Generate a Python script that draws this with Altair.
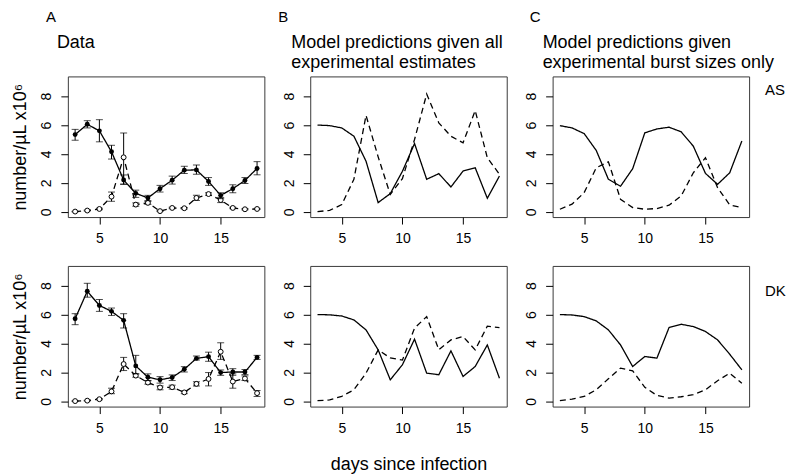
import altair as alt
import pandas as pd

FONT = "Liberation Sans"
W, H = 197, 141

days = list(range(3, 19))

# ---- Panel A: experimental data (mean, lower, upper) ----
as_rbc = [5.34, 6.05, 5.6, 4.15, 2.2, 1.28, 0.96, 1.6, 2.19, 2.88, 2.9, 2.1, 1.14, 1.6, 2.17, 3.0]
as_rbc_lo = [4.95, 5.8, 4.84, 3.65, 1.9, 1.0, 0.78, 1.37, 1.92, 2.65, 2.6, 1.83, 0.91, 1.32, 1.96, 2.56]
as_rbc_hi = [5.7, 6.3, 6.37, 4.6, 2.55, 1.5, 1.14, 1.83, 2.47, 3.15, 3.24, 2.37, 1.32, 1.87, 2.37, 3.47]
as_irbc = [0.02, 0.09, 0.2, 1.05, 3.77, 0.5, 0.62, 0.05, 0.27, 0.25, 0.96, 1.23, 0.82, 0.27, 0.18, 0.2]
as_irbc_lo = [0.0, 0.06, 0.15, 0.73, 1.92, 0.39, 0.52, 0.03, 0.22, 0.2, 0.78, 1.14, 0.64, 0.22, 0.14, 0.16]
as_irbc_hi = [0.04, 0.12, 0.25, 1.37, 5.45, 0.62, 0.72, 0.08, 0.32, 0.3, 1.14, 1.32, 1.0, 0.32, 0.22, 0.24]

dk_rbc = [5.71, 7.61, 6.63, 6.22, 5.6, 2.45, 1.67, 1.49, 1.65, 2.22, 2.97, 3.09, 1.99, 2.03, 2.03, 3.04]
dk_rbc_lo = [5.3, 7.2, 6.22, 5.94, 5.07, 1.9, 1.44, 1.26, 1.44, 2.03, 2.86, 2.77, 1.8, 1.8, 1.85, 2.9]
dk_rbc_hi = [6.06, 8.16, 7.04, 6.45, 6.06, 3.18, 1.9, 1.71, 1.83, 2.4, 3.13, 3.4, 2.17, 2.26, 2.2, 3.18]
dk_irbc = [0.02, 0.05, 0.15, 0.69, 2.58, 1.78, 1.3, 0.96, 0.98, 0.62, 1.21, 1.55, 3.43, 1.37, 1.58, 0.57]
dk_irbc_lo = [0.0, 0.03, 0.11, 0.53, 2.13, 1.67, 1.19, 0.8, 0.85, 0.53, 1.07, 1.07, 2.9, 0.91, 1.44, 0.34]
dk_irbc_hi = [0.04, 0.07, 0.19, 0.91, 3.04, 1.9, 1.42, 1.07, 1.12, 0.71, 1.35, 1.99, 4.05, 1.9, 1.76, 0.75]

# ---- Panel B: model predictions given all experimental estimates ----
b_as_rbc = [6.0, 5.96, 5.8, 5.23, 3.5, 0.64, 1.26, 2.8, 4.72, 2.25, 2.64, 1.72, 2.82, 3.05, 0.94, 2.48]
b_as_irbc = [0.02, 0.1, 0.5, 2.25, 6.67, 3.8, 1.2, 2.3, 5.0, 8.14, 6.15, 5.23, 4.77, 7.0, 3.74, 2.6]
b_dk_rbc = [6.0, 5.98, 5.9, 5.63, 4.94, 3.56, 1.49, 2.53, 4.3, 1.95, 1.84, 3.49, 1.72, 2.41, 3.9, 1.6]
b_dk_irbc = [0.05, 0.1, 0.35, 0.8, 1.95, 3.56, 3.0, 2.85, 5.06, 5.86, 3.56, 4.25, 4.48, 3.56, 5.2, 5.1]

# ---- Panel C: model predictions given experimental burst sizes only ----
c_as_rbc = [5.96, 5.8, 5.41, 4.24, 2.25, 1.77, 2.98, 5.46, 5.73, 5.85, 5.53, 4.54, 2.66, 1.9, 2.7, 4.89]
c_as_irbc = [0.18, 0.53, 1.33, 3.05, 3.46, 0.87, 0.3, 0.18, 0.23, 0.46, 1.1, 2.7, 3.74, 1.67, 0.48, 0.3]
c_dk_rbc = [6.0, 5.97, 5.86, 5.56, 4.94, 3.9, 2.41, 3.1, 2.99, 5.1, 5.33, 5.17, 4.83, 4.25, 3.26, 2.18]
c_dk_irbc = [0.05, 0.16, 0.34, 0.8, 1.56, 2.3, 2.11, 0.97, 0.41, 0.23, 0.32, 0.46, 0.8, 1.43, 1.95, 1.26]

# ---- text ----
panel_letters = ["A", "B", "C"]
panel_titles = [["Data"],
                ["Model predictions given all", "experimental estimates"],
                ["Model predictions given", "experimental burst sizes only"]]
row_labels = ["AS", "DK"]
y_title = "number/µL x10⁶"
x_title = "days since infection"
x_ticks = [5, 10, 15]
y_ticks = [0, 2, 4, 6, 8]

# layout offsets (pixels relative to each plot area)
letter_dx = [-22, -32, -23]
title_dx = [-11, -19, -10]
title_line_y = [-28, -8]
row_label_y = [19, 30]

xscale = alt.Scale(domain=[2.4, 18.6], nice=False, zero=False)
yscale = alt.Scale(domain=[-0.36, 9.36], nice=False, zero=False)


def make_xaxis(with_title):
    kw = dict(values=x_ticks, domain=False, grid=False, tickSize=7, tickColor="black",
              labelFontSize=14, labelFont=FONT, labelColor="black", labelPadding=8,
              labelBaseline="top")
    if with_title:
        kw.update(title=x_title, titleFontSize=18, titleFont=FONT, titleFontWeight="normal",
                  titleColor="black", titleX=W / 2, titleY=63, titleAlign="center",
                  titleBaseline="alphabetic")
    else:
        kw.update(title=None)
    return alt.Axis(**kw)


def make_yaxis(with_title):
    kw = dict(values=y_ticks, domain=False, grid=False, tickSize=7, tickColor="black",
              labelFontSize=14, labelFont=FONT, labelColor="black", labelPadding=10,
              labelAngle=270, labelAlign="center", labelBaseline="alphabetic")
    if with_title:
        kw.update(title=y_title, titleFontSize=18, titleFont=FONT, titleFontWeight="normal",
                  titleColor="black", titleAngle=270, titleX=-42, titleY=H / 2,
                  titleAlign="center", titleBaseline="alphabetic")
    else:
        kw.update(title=None)
    return alt.Axis(**kw)


def line_layer(vals, dashed, X, Y):
    df = pd.DataFrame({"day": days, "value": vals})
    return alt.Chart(df).mark_line(
        color="black", strokeWidth=1.3, strokeDash=[6, 4] if dashed else [1, 0]
    ).encode(x=X, y=Y)


def data_layers(vals, lo, hi, filled, X, yax):
    df = pd.DataFrame({"day": days, "value": vals, "lo": lo, "hi": hi})
    base = alt.Chart(df)
    rule = base.mark_rule(color="black", strokeWidth=1).encode(
        x=X, y=alt.Y("lo:Q", scale=yscale, axis=yax), y2="hi:Q")
    cap_hi = base.mark_tick(orient="horizontal", size=7, thickness=1, color="black").encode(
        x=X, y=alt.Y("hi:Q", scale=yscale, axis=yax))
    cap_lo = base.mark_tick(orient="horizontal", size=7, thickness=1, color="black").encode(
        x=X, y=alt.Y("lo:Q", scale=yscale, axis=yax))
    if filled:
        pts = base.mark_point(shape="circle", filled=True, color="black", size=24, opacity=1).encode(
            x=X, y=alt.Y("value:Q", scale=yscale, axis=yax))
    else:
        pts = base.mark_point(shape="circle", filled=True, fill="white", stroke="black",
                              strokeWidth=1, size=24, opacity=1).encode(
            x=X, y=alt.Y("value:Q", scale=yscale, axis=yax))
    return [rule, cap_hi, cap_lo, pts]


def text_layer(txt, x, y, size, align="left"):
    return alt.Chart(pd.DataFrame({"t": [txt]})).mark_text(
        align=align, baseline="alphabetic", fontSize=size, font=FONT, color="black"
    ).encode(text="t:N", x=alt.value(x), y=alt.value(y))


model_rows = {
    1: [(b_as_rbc, b_as_irbc), (b_dk_rbc, b_dk_irbc)],
    2: [(c_as_rbc, c_as_irbc), (c_dk_rbc, c_dk_irbc)],
}
data_rows = [
    (as_rbc, as_rbc_lo, as_rbc_hi, as_irbc, as_irbc_lo, as_irbc_hi),
    (dk_rbc, dk_rbc_lo, dk_rbc_hi, dk_irbc, dk_irbc_lo, dk_irbc_hi),
]

panels = []
for r in range(2):
    for c in range(3):
        xax = make_xaxis(with_title=(r == 1 and c == 1))
        yax = make_yaxis(with_title=(c == 0))
        X = alt.X("day:Q", scale=xscale, axis=xax)
        Y = alt.Y("value:Q", scale=yscale, axis=yax)
        layers = []
        if c == 0:
            rbc, rlo, rhi, irbc, ilo, ihi = data_rows[r]
            layers.append(line_layer(rbc, False, X, Y))
            layers.append(line_layer(irbc, True, X, Y))
            layers += data_layers(irbc, ilo, ihi, False, X, yax)
            layers += data_layers(rbc, rlo, rhi, True, X, yax)
        else:
            rbc, irbc = model_rows[c][r]
            layers.append(line_layer(rbc, False, X, Y))
            layers.append(line_layer(irbc, True, X, Y))
        if r == 0:
            layers.append(text_layer(panel_letters[c], letter_dx[c], -55, 15))
            for i, line in enumerate(panel_titles[c]):
                layers.append(text_layer(line, title_dx[c], title_line_y[i], 18))
        if c == 2:
            layers.append(text_layer(row_labels[r], W + 16, row_label_y[r], 15))
        panels.append(alt.layer(*layers).properties(
            width=W, height=H,
            view=alt.ViewBackground(stroke="#3a3a3a", strokeWidth=1)))

chart = alt.concat(
    *panels, columns=3, spacing={"row": 49, "column": 46}, bounds="flush",
    padding={"left": 3, "top": 0, "right": 5, "bottom": 0}
).configure_view(stroke="#3a3a3a", strokeWidth=1).configure(background="white")

chart.save("out.html", embed_options={"renderer": "svg", "actions": False})
